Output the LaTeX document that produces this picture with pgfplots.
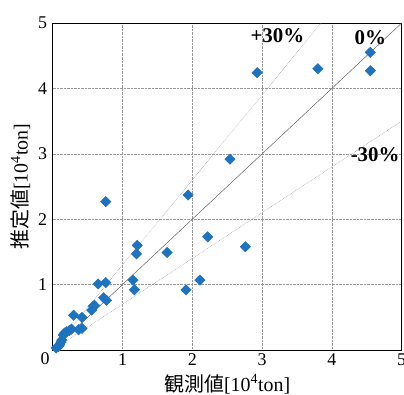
\documentclass[border=0pt]{standalone}
\usepackage{fontspec}
\setmainfont{Liberation Serif}
\newfontfamily\cjk{Noto Sans CJK JP}
\usepackage{pgfplots}
\pgfplotsset{compat=1.18}
\definecolor{mk}{RGB}{30,115,190}
\begin{document}
\begin{tikzpicture}
\begin{axis}[
  scale only axis,
  width=349bp, height=327bp,
  xmin=0, xmax=5, ymin=0, ymax=5,
  xtick={0,1,2,3,4,5}, ytick={0,1,2,3,4,5},
  xticklabels={,1,2,3,4,5}, yticklabels={,1,2,3,4,5},
  tick style={draw=none},
  grid=major,
  grid style={densely dotted, gray!80, line width=0.5pt},
  axis line style={line width=0.8pt},
  tick label style={font=\fontsize{18}{20}\selectfont},
  /pgf/number format/assume math mode=true,
  xticklabel style={yshift=0bp},
  yticklabel style={xshift=-2bp},
  xlabel={{\cjk 観測値}[10\textsuperscript{4}ton]},
  ylabel={{\cjk 推定値}[10\textsuperscript{4}ton]},
  label style={font=\fontsize{20}{22}\selectfont},
  xlabel style={yshift=-2bp},
  ylabel style={yshift=1bp},
  clip=true,
]
\addplot[gray!80!black, line width=0.5pt] coordinates {(0,0) (5,5)};
\addplot[gray!70, densely dotted, line width=0.6pt] coordinates {(0,0) (3.846,5)};
\addplot[gray!70, densely dotted, line width=0.6pt] coordinates {(0,0) (5,3.5)};
\addplot[only marks, mark=square*, mark size=3.7bp, mark options={rotate=45, fill=mk, draw=mk}] coordinates {
(4.55,4.55) (4.55,4.27) (3.80,4.30) (2.93,4.24) (0.76,2.27) (1.94,2.37)
(2.54,2.92) (2.22,1.73) (2.76,1.58) (1.21,1.60) (1.20,1.47) (1.64,1.49)
(1.15,1.07) (1.17,0.92) (2.11,1.07) (1.91,0.92) (0.65,1.01) (0.76,1.03)
(0.73,0.80) (0.77,0.76) (0.60,0.68) (0.58,0.67) (0.56,0.61) (0.30,0.53)
(0.42,0.50) (0.37,0.31) (0.42,0.33) (0.27,0.32) (0.20,0.28) (0.15,0.23)
(0.13,0.15) (0.10,0.08) (0.05,0.03) (0.08,0.05) (0.17,0.26) (0.24,0.30)
(0.12,0.12)
};
\node[font=\bfseries\fontsize{21}{23}\selectfont] at (axis cs:3.22,4.81) {+30\%};
\node[font=\bfseries\fontsize{21}{23}\selectfont] at (axis cs:4.55,4.78) {0\%};
\node[font=\bfseries\fontsize{21}{23}\selectfont] at (axis cs:4.62,2.98) {-30\%};
\end{axis}
\node[anchor=north east, font=\fontsize{18}{20}\selectfont, inner sep=1bp] at ([xshift=-2bp,yshift=-1bp]current axis.south west) {0};
\pgfresetboundingbox
\path[use as bounding box] ([xshift=-52.7bp,yshift=-45bp]current axis.south west) rectangle ++(404bp,395bp);
\end{tikzpicture}
\end{document}
